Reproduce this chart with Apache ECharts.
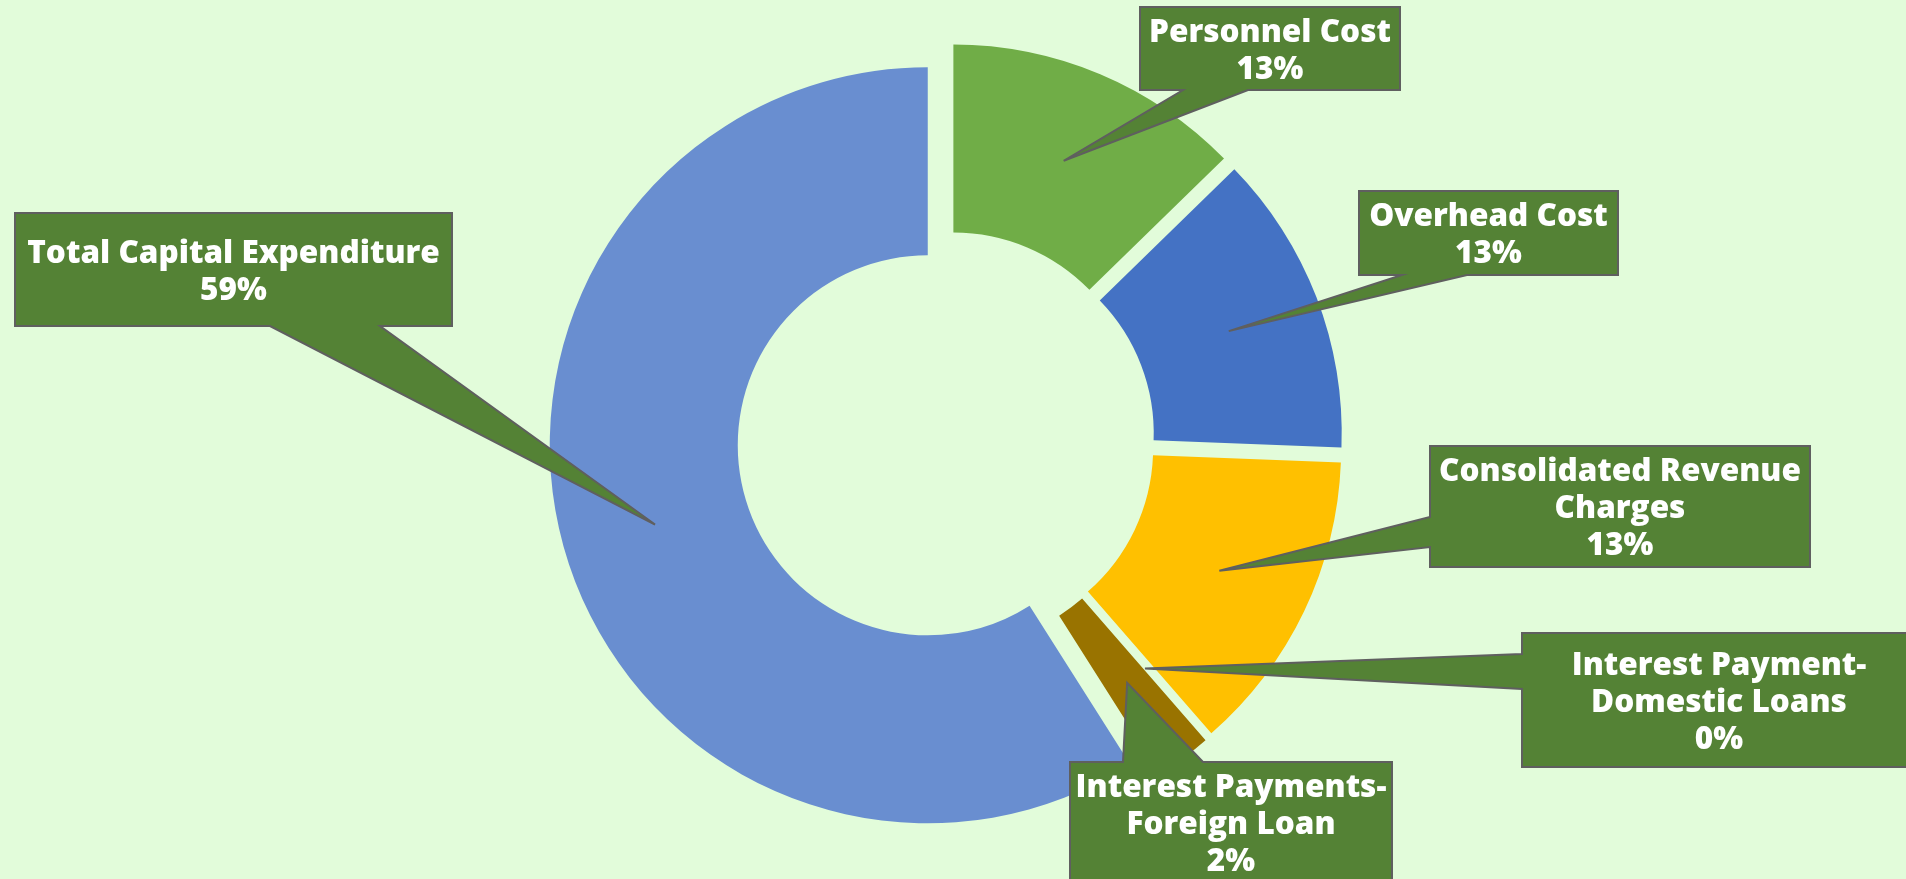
<!DOCTYPE html>
<html>
<head>
<meta charset="utf-8">
<script src="https://cdn.jsdelivr.net/npm/echarts@6/dist/echarts.min.js"></script>
<style>
	html, body { margin: 0; padding: 0; background: #E2FCDA; }
	#chart { width: 1906px; height: 879px; }
</style>
</head>
<body>
<div id="chart"></div>
<script>
// data (share of total, %)
var categories = ['Personnel Cost', 'Overhead Cost', 'Consolidated Revenue\nCharges', 'Interest Payment-\nDomestic Loans', 'Interest Payments-\nForeign Loan', 'Total Capital Expenditure'];
var values = [12.7, 12.9, 13.0, 0, 2.4, 59.0];
var colors = ['#70AD47', '#4472C4', '#FFC000', '#5B9BD5', '#997300', '#698ED0'];

// pie layout
var pieCenter = [946, 440];
var pieRadius = [190, 378];
var explode = 19;

// callout boxes: [left, top, right, bottom, side of wedge, wedge start, wedge end]
var boxes = [
	[1140, 7, 1400, 90, 'bottom', 1183, 1248],
	[1359, 191, 1618, 275, 'bottom', 1402, 1467],
	[1430, 446, 1810, 567, 'left', 517, 547],
	[1522, 633, 1916, 767, 'left', 654, 689],
	[1070, 762, 1392, 882, 'top', 1123, 1203],
	[15, 213, 452, 326, 'bottom', 270, 380]
];

var chart = echarts.init(document.getElementById('chart'));

var total = values.reduce(function (a, b) { return a + b; }, 0);

function calloutShapes() {
	var els = [];
	var acc = 0;
	var midR = (pieRadius[0] + pieRadius[1]) / 2 + explode;
	values.forEach(function (v, i) {
		var mid = (acc + v / 2) / total * Math.PI * 2;
		acc += v;
		var tip = [pieCenter[0] + midR * Math.sin(mid), pieCenter[1] - midR * Math.cos(mid)];
		var b = boxes[i];
		var x0 = b[0], y0 = b[1], x1 = b[2], y1 = b[3], a = b[5], c = b[6];
		var pts = [[x0, y0]];
		if (b[4] == 'top') pts.push([a, y0], tip, [c, y0]);
		pts.push([x1, y0], [x1, y1]);
		if (b[4] == 'bottom') pts.push([c, y1], tip, [a, y1]);
		pts.push([x0, y1]);
		if (b[4] == 'left') pts.push([x0, c], tip, [x0, a]);
		els.push({
			type: 'polygon',
			z: 10,
			shape: { points: pts },
			style: { fill: '#548235', stroke: '#5F5F5F', lineWidth: 2 }
		});
		els.push({
			type: 'text',
			z: 11,
			x: (x0 + x1) / 2,
			y: (y0 + y1) / 2 + 3,
			style: {
				text: categories[i] + '\n' + Math.round(v / total * 100) + '%',
				fill: '#FFFFFF',
				font: '800 31.5px "Open Sans"',
				lineHeight: 37,
				align: 'center',
				verticalAlign: 'middle'
			}
		});
	});
	return els;
}

var option = {
	backgroundColor: '#E2FCDA',
	animation: false,
	series: [
		{
			type: 'pie',
			center: pieCenter,
			radius: pieRadius,
			startAngle: 90,
			clockwise: true,
			selectedMode: 'multiple',
			selectedOffset: explode,
			label: { show: false },
			labelLine: { show: false },
			emphasis: { disabled: true },
			data: values.map(function (v, i) {
				return { name: categories[i], value: v, selected: true, itemStyle: { color: colors[i] } };
			})
		}
	],
	graphic: calloutShapes()
};

chart.setOption(option);
</script>
</body>
</html>
